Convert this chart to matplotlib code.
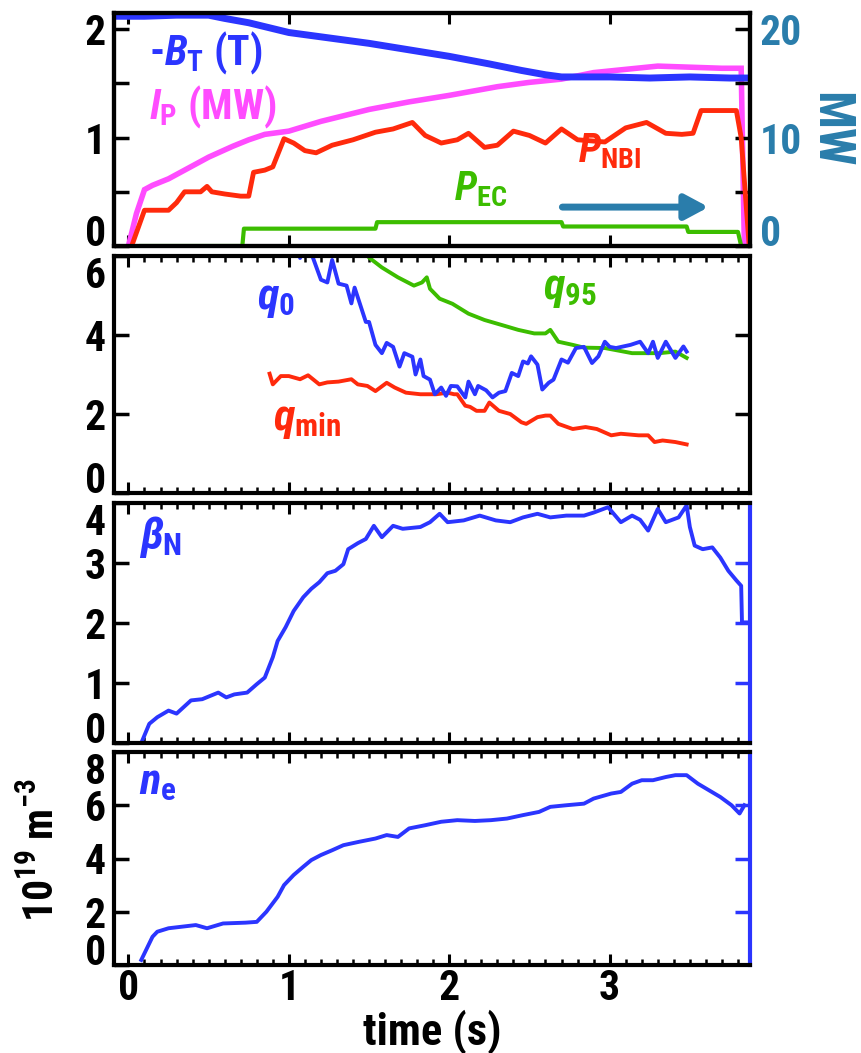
import matplotlib
matplotlib.use('Agg')
import matplotlib.pyplot as plt
from matplotlib.ticker import FixedLocator, MultipleLocator, FixedFormatter

FONT = ['Roboto Condensed', 'Liberation Sans Narrow', 'DejaVu Sans Condensed', 'DejaVu Sans']
plt.rcParams['font.family'] = FONT
plt.rcParams['font.weight'] = 'bold'
plt.rcParams['mathtext.fontset'] = 'custom'
plt.rcParams['mathtext.rm'] = 'Roboto Condensed:bold'
plt.rcParams['mathtext.it'] = 'Roboto Condensed:italic:bold'
plt.rcParams['mathtext.bf'] = 'Roboto Condensed:bold'

BLUE = '#2b35ff'
MAG = '#ff4cff'
RED = '#ff2a0c'
GREEN = '#3cbd00'
TEAL = '#2a7dab'

# ---------------- data ----------------
t_bt = [-0.08, 0.1, 0.3, 0.5, 0.6, 0.75, 1.0, 1.25, 1.5, 1.75, 2.0, 2.25, 2.45, 2.6, 2.7, 3.0, 3.25, 3.5, 3.75, 3.87]
bt = [2.12, 2.12, 2.13, 2.13, 2.10, 2.06, 1.97, 1.92, 1.87, 1.81, 1.75, 1.68, 1.62, 1.58, 1.56, 1.56, 1.55, 1.56, 1.55, 1.55]

t_ip = [0.0, 0.05, 0.1, 0.15, 0.25, 0.35, 0.5, 0.65, 0.75, 0.85, 1.0, 1.2, 1.5, 1.75, 2.0, 2.3, 2.5, 2.7, 2.9, 3.1, 3.3, 3.5, 3.7, 3.82, 3.83, 3.84]
ip = [0.0, 0.3, 0.52, 0.56, 0.62, 0.70, 0.82, 0.92, 0.98, 1.03, 1.06, 1.15, 1.26, 1.33, 1.39, 1.47, 1.51, 1.54, 1.60, 1.63, 1.66, 1.65, 1.64, 1.64, 0.8, 0.0]

t_nbi = [0.02, 0.1, 0.25, 0.3, 0.35, 0.45, 0.49, 0.52, 0.6, 0.7, 0.75, 0.78, 0.85, 0.9, 0.97, 1.03, 1.1, 1.17, 1.27, 1.4,
         1.54, 1.65, 1.77, 1.85, 1.95, 2.05, 2.12, 2.22, 2.3, 2.4, 2.5, 2.6, 2.7, 2.8, 2.97, 3.1, 3.23, 3.35, 3.45, 3.52,
         3.57, 3.79, 3.82, 3.85, 3.87]
p_nbi = [0.0, 3.3, 3.3, 4.0, 5.0, 5.0, 5.5, 5.0, 4.8, 4.6, 4.6, 6.8, 7.0, 7.3, 9.9, 9.5, 8.8, 8.6, 9.3, 9.8,
         10.5, 10.8, 11.4, 10.2, 9.5, 9.8, 10.4, 9.1, 9.3, 10.6, 10.2, 9.5, 10.8, 9.8, 9.6, 10.9, 11.4, 10.4, 10.3, 10.4,
         12.5, 12.5, 10.0, 4.0, 0.0]

t_ec = [0.08, 0.71, 0.72, 1.54, 1.55, 2.70, 2.71, 3.48, 3.49, 3.80, 3.82]
p_ec = [0.0, 0.0, 1.6, 1.6, 2.2, 2.2, 1.8, 1.8, 1.3, 1.3, 0.0]

t_q0 = [1.05, 1.07, 1.09, 1.14, 1.15, 1.2, 1.24, 1.27, 1.31, 1.36, 1.39, 1.41, 1.48, 1.5, 1.54, 1.58, 1.61, 1.65, 1.69,
        1.72, 1.77, 1.79, 1.82, 1.84, 1.88, 1.91, 1.95, 1.98, 2.01, 2.05, 2.1, 2.12, 2.16, 2.18, 2.23, 2.27, 2.31, 2.35,
        2.39, 2.43, 2.46, 2.49, 2.51, 2.55, 2.58, 2.62, 2.65, 2.7, 2.74, 2.79, 2.84, 2.89, 2.93, 2.97, 3.0, 3.04, 3.13,
        3.19, 3.24, 3.27, 3.3, 3.35, 3.41, 3.46, 3.48]
q0 = [6.6, 5.95, 6.6, 6.6, 5.96, 5.4, 5.33, 5.9, 5.3, 5.25, 4.8, 5.2, 4.33, 4.33, 3.75, 3.54, 3.8, 3.7, 3.2,
      3.54, 3.45, 3.0, 3.38, 2.96, 2.87, 2.5, 2.67, 2.46, 2.71, 2.7, 2.42, 2.82, 2.5, 2.71, 2.6, 2.42, 2.54, 2.58,
      3.04, 2.96, 3.33, 3.28, 3.46, 3.25, 2.62, 2.79, 2.87, 3.38, 3.3, 3.67, 3.7, 3.29, 3.46, 3.83, 3.7, 3.67, 3.75,
      3.83, 3.54, 3.83, 3.42, 3.83, 3.42, 3.71, 3.58]

t_q95 = [1.48, 1.5, 1.58, 1.68, 1.78, 1.83, 1.86, 1.88, 1.94, 2.02, 2.12, 2.22, 2.33, 2.43, 2.53, 2.6, 2.63, 2.68,
         2.77, 2.84, 2.97, 3.14, 3.31, 3.41, 3.48]
q95 = [6.1, 5.96, 5.71, 5.46, 5.25, 5.33, 5.46, 5.17, 4.92, 4.79, 4.54, 4.38, 4.25, 4.13, 4.04, 4.04, 4.13, 3.83,
       3.75, 3.68, 3.67, 3.54, 3.54, 3.58, 3.42]

t_qmin = [0.88, 0.9, 0.95, 1.0, 1.07, 1.12, 1.19, 1.24, 1.31, 1.39, 1.43, 1.49, 1.54, 1.61, 1.66, 1.73, 1.82, 1.92,
          1.99, 2.03, 2.05, 2.1, 2.13, 2.17, 2.22, 2.25, 2.31, 2.38, 2.45, 2.48, 2.55, 2.6, 2.63, 2.68, 2.77, 2.85,
          2.92, 3.01, 3.07, 3.18, 3.24, 3.28, 3.33, 3.41, 3.48]
qmin = [3.02, 2.75, 2.96, 2.96, 2.88, 2.98, 2.75, 2.8, 2.82, 2.88, 2.75, 2.71, 2.58, 2.79, 2.67, 2.54, 2.5, 2.5,
        2.54, 2.5, 2.5, 2.21, 2.18, 2.08, 2.08, 2.29, 2.08, 2.0, 1.79, 1.75, 1.92, 1.96, 1.96, 1.75, 1.62, 1.67,
        1.62, 1.46, 1.5, 1.46, 1.46, 1.29, 1.33, 1.29, 1.23]

t_bn = [0.08, 0.13, 0.18, 0.25, 0.3, 0.39, 0.46, 0.56, 0.61, 0.66, 0.74, 0.8, 0.85, 0.9, 0.93, 0.98, 1.03, 1.09,
        1.14, 1.19, 1.24, 1.29, 1.34, 1.37, 1.43, 1.48, 1.53, 1.58, 1.65, 1.71, 1.82, 1.88, 1.94, 1.99, 2.09, 2.19,
        2.29, 2.38, 2.46, 2.55, 2.63, 2.73, 2.84, 2.9, 2.99, 3.07, 3.14, 3.19, 3.24, 3.3, 3.35, 3.43, 3.48, 3.5,
        3.53, 3.58, 3.64, 3.69, 3.74, 3.79, 3.82, 3.825, 3.87]
beta_n = [0.0, 0.32, 0.43, 0.54, 0.49, 0.71, 0.73, 0.84, 0.76, 0.81, 0.84, 0.98, 1.09, 1.43, 1.7, 1.93, 2.2, 2.43,
          2.57, 2.68, 2.83, 2.87, 2.98, 3.23, 3.33, 3.4, 3.62, 3.43, 3.62, 3.57, 3.6, 3.68, 3.82, 3.68, 3.71, 3.79,
          3.71, 3.68, 3.76, 3.82, 3.76, 3.79, 3.79, 3.84, 3.93, 3.68, 3.79, 3.72, 3.54, 3.9, 3.68, 3.76, 3.96, 3.6,
          3.29, 3.23, 3.26, 3.09, 2.87, 2.71, 2.62, 2.01, 2.01]

t_ne = [0.08, 0.15, 0.18, 0.25, 0.42, 0.49, 0.59, 0.73, 0.8, 0.86, 0.93, 0.97, 1.03, 1.09, 1.14, 1.2, 1.27, 1.34,
        1.44, 1.54, 1.61, 1.68, 1.75, 1.85, 1.95, 2.05, 2.16, 2.26, 2.36, 2.46, 2.56, 2.63, 2.73, 2.84, 2.9, 3.01,
        3.07, 3.14, 3.2, 3.27, 3.35, 3.41, 3.48, 3.55, 3.62, 3.69, 3.76, 3.81, 3.84]
ne = [0.19, 1.06, 1.25, 1.38, 1.5, 1.38, 1.56, 1.59, 1.62, 2.0, 2.56, 3.0, 3.38, 3.69, 3.94, 4.13, 4.31, 4.5,
      4.63, 4.75, 4.88, 4.81, 5.13, 5.25, 5.38, 5.44, 5.41, 5.44, 5.5, 5.63, 5.75, 5.94, 6.0, 6.06, 6.25, 6.44,
      6.5, 6.81, 6.94, 6.94, 7.06, 7.13, 7.13, 6.81, 6.56, 6.31, 6.0, 5.69, 6.0]

x_ticks = [0, 1, 2, 3]
x_labels = ['0', '1', '2', '3']

# ---------------- layout ----------------
fig = plt.figure(figsize=(8.61, 10.53), dpi=100)
L, W = 114 / 861, 636 / 861


def pos(top, bot):
    return [L, 1 - bot / 1053, W, (bot - top) / 1053]


ax1 = fig.add_axes(pos(13, 246))
ax2 = fig.add_axes(pos(256, 493))
ax3 = fig.add_axes(pos(503, 743))
ax4 = fig.add_axes(pos(752, 965))
axes = [ax1, ax2, ax3, ax4]

XLIM = (-0.09, 3.875)
TICKFS = 30


def style(ax, ylim, yt, ylabels, minor_x=True, right_color='black', right_ticks=None):
    ax.set_xlim(*XLIM)
    ax.set_ylim(*ylim)
    for s in ax.spines.values():
        s.set_linewidth(3)
    ax.spines['right'].set_color(right_color)
    ax.xaxis.set_major_locator(FixedLocator(x_ticks))
    if minor_x:
        ax.xaxis.set_minor_locator(MultipleLocator(0.1))
    ax.tick_params(axis='x', which='major', direction='in', length=8, width=2.2, top=True, bottom=True,
                   labelbottom=False)
    ax.tick_params(axis='x', which='minor', direction='in', length=4, width=1.8, top=True, bottom=True)
    ax.yaxis.set_major_locator(FixedLocator(yt))
    ax.yaxis.set_major_formatter(FixedFormatter(ylabels))
    ax.tick_params(axis='y', which='major', direction='in', length=11, width=2.5, right=False,
                   labelsize=TICKFS, pad=6)
    if right_ticks is not None:
        tw = ax.twinx()
        tw.set_ylim(*ylim)
        tw.yaxis.set_major_locator(FixedLocator(right_ticks))
        tw.tick_params(axis='y', direction='in', length=11, width=2.5, colors=right_color, labelright=False)
        for s in tw.spines.values():
            s.set_visible(False)


def fix_end_labels(ax, top_label=True):
    fig.canvas.draw()
    labs = [l for l in ax.get_yticklabels() if l.get_text()]
    labs[0].set_va('baseline')
    if top_label:
        labs[-1].set_va('top')


# ---- panel 1 ----
style(ax1, (0, 2.15), [0, 0.5, 1, 1.5, 2], ['0', '', '1', '', '2'], minor_x=False)
ax1.plot(t_ip, ip, color=MAG, lw=4, solid_joinstyle='miter')
ax1.plot(t_bt, bt, color=BLUE, lw=5)
ax1r = ax1.twinx()
ax1r.set_ylim(0, 21.5)
ax1r.set_xlim(*XLIM)
ax1r.plot(t_ec, p_ec, color=GREEN, lw=3)
ax1r.plot(t_nbi, p_nbi, color=RED, lw=3.5)
ax1r.yaxis.set_major_locator(FixedLocator([0, 5, 10, 15, 20]))
ax1r.yaxis.set_major_formatter(FixedFormatter(['0', '', '10', '', '20']))
ax1r.tick_params(axis='y', direction='in', length=11, width=2.5, color='black', labelcolor=TEAL,
                 labelsize=TICKFS, pad=7)
for s in ax1r.spines.values():
    s.set_linewidth(3)
fig.text(830 / 861, 1 - 130 / 1053, 'MW', color=TEAL, fontsize=36, fontweight='bold', rotation=270,
         ha='center', va='center')

ax1.text(0.055, 0.83, r'-$\mathit{B}_\mathrm{T}$ (T)', transform=ax1.transAxes, color=BLUE, fontsize=30,
         fontweight='bold', va='center', ha='left')
ax1.text(0.055, 0.60, r'$\mathit{I}_\mathrm{P}$ (MW)', transform=ax1.transAxes, color=MAG, fontsize=30,
         fontweight='bold', va='center', ha='left')
ax1.text(0.535, 0.245, r'$\mathit{P}_\mathrm{EC}$', transform=ax1.transAxes, color=GREEN, fontsize=29,
         fontweight='bold', va='center', ha='left')
ax1.text(0.73, 0.405, r'$\mathit{P}_\mathrm{NBI}$', transform=ax1.transAxes, color=RED, fontsize=29,
         fontweight='bold', va='center', ha='left')
ax1.annotate('', xy=(0.935, 0.167), xytext=(0.705, 0.167), xycoords='axes fraction',
             arrowprops=dict(arrowstyle='-|>,head_length=1.4,head_width=0.75', color=TEAL, lw=5,
                             shrinkA=0, shrinkB=0))

# ---- panel 2 ----
style(ax2, (0, 6), [0, 2, 4, 6], ['0', '2', '4', '6'], right_ticks=[2, 4])
ax2.plot(t_q95, q95, color=GREEN, lw=2.8)
ax2.plot(t_qmin, qmin, color=RED, lw=2.8)
ax2.plot(t_q0, q0, color=BLUE, lw=2.8)
ax2.text(0.225, 0.82, r'$\mathit{q}_\mathrm{0}$', transform=ax2.transAxes, color=BLUE, fontsize=32,
         va='center', ha='left')
ax2.text(0.675, 0.86, r'$\mathit{q}_\mathrm{95}$', transform=ax2.transAxes, color=GREEN, fontsize=32,
         va='center', ha='left')
ax2.text(0.25, 0.31, r'$\mathit{q}_\mathrm{min}$', transform=ax2.transAxes, color=RED, fontsize=32,
         va='center', ha='left')

# ---- panel 3 ----
style(ax3, (0, 4), [0, 1, 2, 3, 4], ['0', '1', '2', '3', '4'], right_color=BLUE, right_ticks=[1, 2, 3])
ax3.plot(t_bn, beta_n, color=BLUE, lw=2.8)
ax3.text(0.04, 0.86, r'$\mathit{\beta}_\mathrm{N}$', transform=ax3.transAxes, color=BLUE, fontsize=32,
         va='center', ha='left')

# ---- panel 4 ----
style(ax4, (0, 8), [0, 2, 4, 6, 8], ['0', '2', '4', '6', '8'], right_color=BLUE, right_ticks=[2, 4, 6])
ax4.plot(t_ne, ne, color=BLUE, lw=2.8)
ax4.text(0.04, 0.86, r'$\mathit{n}_\mathrm{e}$', transform=ax4.transAxes, color=BLUE, fontsize=32,
         va='center', ha='left')
ax4.tick_params(axis='x', which='major', labelbottom=True, labelsize=TICKFS, pad=2)
ax4.set_xticks(x_ticks)
ax4.set_xticklabels(x_labels, fontweight='bold')
ax4.set_xlabel('time (s)', fontsize=32, fontweight='bold')
ax4.xaxis.set_label_coords(0.5, -0.21)
ax4.set_ylabel(r'10$^\mathrm{19}$ m$^\mathrm{-3}$', fontsize=30, fontweight='bold')
ax4.yaxis.set_label_coords(-0.08, 0.54)

fix_end_labels(ax1, top_label=False)
fix_end_labels(ax2)
fix_end_labels(ax3)
fix_end_labels(ax4)
fig.canvas.draw()
labs = [l for l in ax1r.get_yticklabels() if l.get_text()]
labs[0].set_va('baseline')

fig.savefig('out.png', dpi=100)
